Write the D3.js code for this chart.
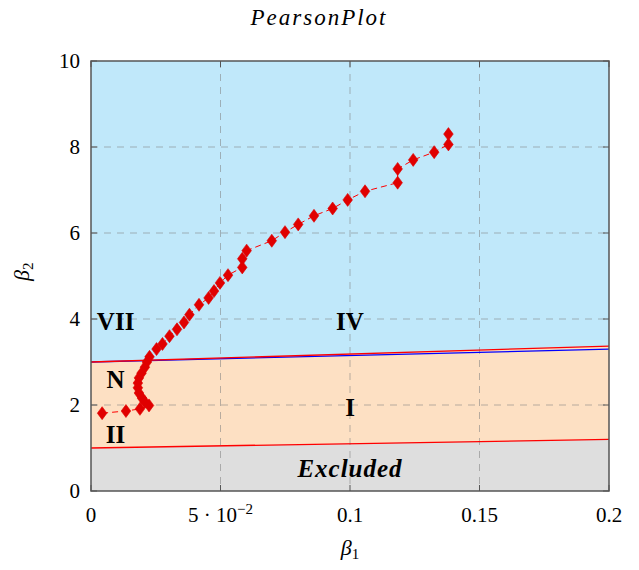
<!DOCTYPE html>
<html>
<head>
<meta charset="utf-8">
<script src="https://cdn.jsdelivr.net/npm/d3@7"></script>
<style>
  body { margin: 0; background: #fff; }
  text { font-family: "Liberation Serif", "DejaVu Serif", serif; fill: #000; }
</style>
</head>
<body>
<div id="wrapper"></div>
<script>
// data
const beta1 = [0.0043, 0.0135, 0.0189, 0.0224, 0.0208, 0.0197, 0.0185, 0.0181, 0.0181, 0.0185,
  0.0195, 0.0208, 0.0216, 0.0226, 0.0253, 0.0276, 0.0303, 0.0332, 0.0359, 0.0380,
  0.0417, 0.0454, 0.0475, 0.0498, 0.0529, 0.0584, 0.0584, 0.0601, 0.0698, 0.0749,
  0.0800, 0.0861, 0.0933, 0.0991, 0.1058, 0.1184, 0.1184, 0.1244, 0.1325, 0.1380, 0.1380];
const beta2 = [1.81, 1.86, 1.91, 1.99, 2.07, 2.16, 2.28, 2.40, 2.51, 2.63,
  2.74, 2.88, 3.00, 3.12, 3.30, 3.42, 3.60, 3.76, 3.92, 4.10,
  4.33, 4.49, 4.65, 4.84, 5.02, 5.20, 5.40, 5.59, 5.82, 6.02,
  6.20, 6.40, 6.57, 6.77, 6.97, 7.17, 7.49, 7.70, 7.88, 8.06, 8.30];

// boundary lines, as [beta1, beta2] end points
const lowerLine = [[0, 1], [0.2, 1.2]];
const upperLine = [[0, 3], [0.2, 3.37]];
const typeIIILine = [[0, 3], [0.2, 3.3]];

const xTicks = [0, 0.05, 0.1, 0.15, 0.2];
const yTicks = [0, 2, 4, 6, 8, 10];

const regionLabels = [
  { text: "VII", x: 0.0095, y: 3.95 },
  { text: "IV", x: 0.1, y: 3.95 },
  { text: "N", x: 0.0095, y: 2.6 },
  { text: "I", x: 0.1, y: 1.95 },
  { text: "II", x: 0.0095, y: 1.32 },
];

const dimensions = {
  width: 639,
  height: 570,
  margin: { top: 61, right: 30, bottom: 79, left: 91 },
};
dimensions.plotWidth = dimensions.width - dimensions.margin.left - dimensions.margin.right;
dimensions.plotHeight = dimensions.height - dimensions.margin.top - dimensions.margin.bottom;

const svg = d3.select("#wrapper").append("svg")
  .attr("width", dimensions.width)
  .attr("height", dimensions.height);

const plot = svg.append("g")
  .attr("transform", `translate(${dimensions.margin.left},${dimensions.margin.top})`);

const xScale = d3.scaleLinear().domain([0, 0.2]).range([0, dimensions.plotWidth]);
const yScale = d3.scaleLinear().domain([0, 10]).range([dimensions.plotHeight, 0]);

// region fills
const lineAt = (line, x) => {
  const [[x0, y0], [x1, y1]] = line;
  return y0 + (y1 - y0) * (x - x0) / (x1 - x0);
};
const poly = (pts) => "M" + pts.map(([a, b]) => `${xScale(a)},${yScale(b)}`).join("L") + "Z";

plot.append("rect")
  .attr("width", dimensions.plotWidth)
  .attr("height", dimensions.plotHeight)
  .attr("fill", "#c0e8fa");

plot.append("path")
  .attr("fill", "#fde0c3")
  .attr("d", poly([[0, lineAt(lowerLine, 0)], [0.2, lineAt(lowerLine, 0.2)],
    [0.2, lineAt(upperLine, 0.2)], [0, lineAt(upperLine, 0)]]));

plot.append("path")
  .attr("fill", "#dedede")
  .attr("d", poly([[0, 0], [0.2, 0], [0.2, lineAt(lowerLine, 0.2)], [0, lineAt(lowerLine, 0)]]));

// grid
const grid = plot.append("g")
  .attr("stroke", "#7f7f7f")
  .attr("stroke-opacity", 0.55)
  .attr("stroke-dasharray", "7,6")
  .attr("stroke-width", 1);
grid.selectAll(".gx").data(xTicks.slice(1, -1)).join("line")
  .attr("x1", (d) => xScale(d)).attr("x2", (d) => xScale(d))
  .attr("y1", 0).attr("y2", dimensions.plotHeight);
grid.selectAll(".gy").data(yTicks.slice(1, -1)).join("line")
  .attr("y1", (d) => yScale(d)).attr("y2", (d) => yScale(d))
  .attr("x1", 0).attr("x2", dimensions.plotWidth);

// boundary lines
const lineGen = d3.line().x((d) => xScale(d[0])).y((d) => yScale(d[1]));
plot.append("path").attr("d", lineGen(typeIIILine))
  .attr("fill", "none").attr("stroke", "#0000ff").attr("stroke-width", 1.3);
plot.append("path").attr("d", lineGen(upperLine))
  .attr("fill", "none").attr("stroke", "#ff0000").attr("stroke-width", 1.3);
plot.append("path").attr("d", lineGen(lowerLine))
  .attr("fill", "none").attr("stroke", "#ff0000").attr("stroke-width", 1.3);

// data line and markers
const points = beta1.map((b, i) => [b, beta2[i]]);
plot.append("path").attr("d", lineGen(points))
  .attr("fill", "none").attr("stroke", "#ff0000").attr("stroke-width", 1)
  .attr("stroke-dasharray", "6,4");

plot.selectAll(".marker").data(points).join("path")
  .attr("class", "marker")
  .attr("transform", (d) => `translate(${xScale(d[0])},${yScale(d[1])})`)
  .attr("d", "M0,-6.5L4.8,0L0,6.5L-4.8,0Z")
  .attr("fill", "#e00000")
  .attr("stroke", "#e00000")
  .attr("stroke-width", 0.6);

// region labels
plot.selectAll(".region").data(regionLabels).join("text")
  .attr("x", (d) => xScale(d.x))
  .attr("y", (d) => yScale(d.y))
  .attr("text-anchor", "middle")
  .attr("dominant-baseline", "central")
  .style("font-size", "25px")
  .style("font-weight", "bold")
  .text((d) => d.text);

plot.append("text")
  .attr("x", xScale(0.1))
  .attr("y", yScale(0.32))
  .attr("text-anchor", "middle")
  .style("font-size", "25px")
  .style("font-weight", "bold")
  .style("font-style", "italic")
  .style("letter-spacing", "1px")
  .text("Excluded");

// frame and ticks
const axisColor = "#555";
const ticks = plot.append("g").attr("stroke", axisColor).attr("stroke-width", 1);
xTicks.forEach((t) => {
  ticks.append("line").attr("x1", xScale(t)).attr("x2", xScale(t))
    .attr("y1", dimensions.plotHeight).attr("y2", dimensions.plotHeight - 6);
  ticks.append("line").attr("x1", xScale(t)).attr("x2", xScale(t))
    .attr("y1", 0).attr("y2", 6);
});
yTicks.forEach((t) => {
  ticks.append("line").attr("y1", yScale(t)).attr("y2", yScale(t))
    .attr("x1", 0).attr("x2", 6);
  ticks.append("line").attr("y1", yScale(t)).attr("y2", yScale(t))
    .attr("x1", dimensions.plotWidth).attr("x2", dimensions.plotWidth - 6);
});
plot.append("rect")
  .attr("width", dimensions.plotWidth)
  .attr("height", dimensions.plotHeight)
  .attr("fill", "none")
  .attr("stroke", axisColor)
  .attr("stroke-width", 1.5);

// tick labels
const xLabels = plot.append("g");
xTicks.forEach((t) => {
  const label = xLabels.append("text")
    .attr("x", xScale(t))
    .attr("y", dimensions.plotHeight + 31)
    .attr("text-anchor", "middle")
    .style("font-size", "21px");
  if (t === 0.05) {
    label.append("tspan").text("5 \u00b7 10");
    label.append("tspan").attr("dy", -8).style("font-size", "15px").text("\u22122");
  } else {
    label.text(d3.format("~g")(t));
  }
});
plot.append("g").selectAll("text").data(yTicks).join("text")
  .attr("x", -11)
  .attr("y", (d) => yScale(d))
  .attr("dy", "0.35em")
  .attr("text-anchor", "end")
  .style("font-size", "21px")
  .text((d) => d);

// axis titles
const xTitle = svg.append("text")
  .attr("x", dimensions.margin.left + xScale(0.1))
  .attr("y", 555)
  .attr("text-anchor", "middle")
  .style("font-size", "22px");
xTitle.append("tspan").style("font-style", "italic").text("\u03b2");
xTitle.append("tspan").attr("dy", 4).style("font-size", "15px").text("1");

const yTitle = svg.append("text")
  .attr("transform", `translate(29, ${dimensions.margin.top + yScale(5.1)}) rotate(-90)`)
  .attr("text-anchor", "middle")
  .style("font-size", "22px");
yTitle.append("tspan").style("font-style", "italic").text("\u03b2");
yTitle.append("tspan").attr("dy", 4).style("font-size", "15px").text("2");

svg.append("text")
  .attr("x", 319)
  .attr("y", 25)
  .attr("text-anchor", "middle")
  .style("font-size", "23px")
  .style("font-style", "italic")
  .style("letter-spacing", "2px")
  .text("PearsonPlot");
</script>
</body>
</html>
